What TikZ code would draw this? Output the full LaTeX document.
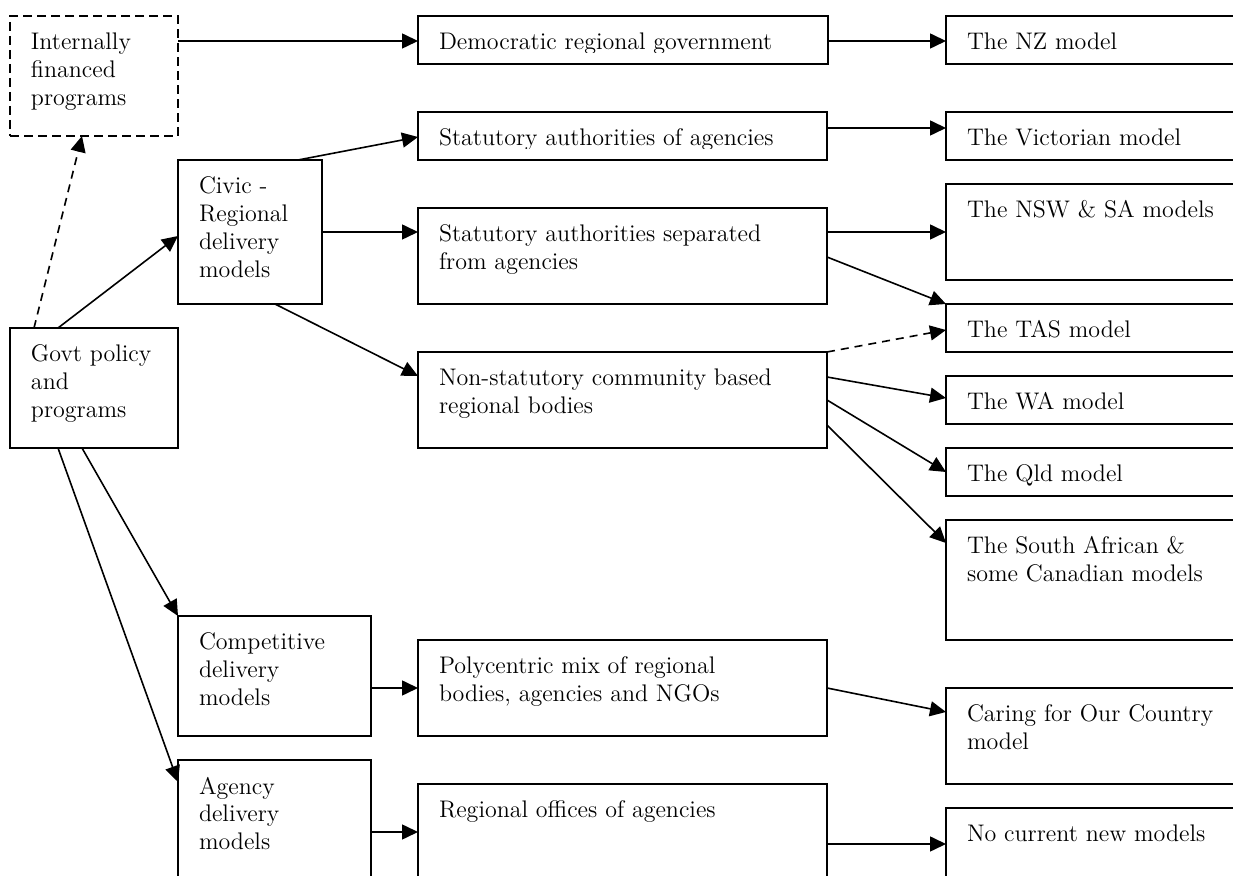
\documentclass[tikz,border=0pt]{standalone}
\usetikzlibrary{arrows.meta}
\tikzset{
  boxst/.style={draw, line width=0.9pt, inner sep=0pt, outer sep=0pt},
  dbox/.style={dash pattern=on 4.5pt off 2.5pt},
  txt/.style={inner sep=0pt, outer sep=0pt, align=left, anchor=north west, font=\fontsize{12}{14}\selectfont},
  arr/.style={line width=0.8pt, -{Triangle[length=8pt,width=7.5pt]}},
  darr/.style={arr, dash pattern=on 4pt off 3pt},
}
\newcommand\mybox[6][]{%
  \node[boxst,#1,anchor=north west,minimum width={(#5-#3)*0.5pt},minimum height={(#6-#4)*0.5pt}] (#2) at (#3,#4) {};}
\newcommand\mytext[2]{\node[txt] (#1t) at ([shift={(21,14.4)}]#1.north west) {\strut #2};}
\begin{document}
\begin{tikzpicture}[x=0.5pt,y=-0.5pt]
\useasboundingbox (0,0) rectangle (1233,876);
\clip (0,0) rectangle (1233,876);
% boxes
\mybox[dbox]{inter}{10}{16}{178}{136}
\mybox{demo}{418}{16}{828}{64}
\mybox{nz}{946}{16}{1260}{64}
\mybox{civic}{178}{160}{322}{304}
\mybox{stat1}{418}{112}{827}{160}
\mybox{vic}{946}{112}{1260}{160}
\mybox{stat2}{418}{208}{827}{304}
\mybox{nsw}{946}{184}{1260}{280}
\mybox{tas}{946}{304}{1260}{352}
\mybox{nonstat}{418}{352}{827}{448}
\mybox{wa}{946}{376}{1260}{424}
\mybox{qld}{946}{448}{1260}{496}
\mybox{sa}{946}{520}{1260}{640}
\mybox{govt}{10}{328}{178}{448}
\mybox{comp}{178}{616}{371}{736}
\mybox{poly}{418}{640}{827}{736}
\mybox{caring}{946}{688}{1260}{784}
\mybox{agency}{178}{760}{371}{900}
\mybox{regional}{418}{784}{827}{900}
\mybox{nocurrent}{946}{808}{1260}{900}
% texts
\mytext{inter}{Internally\\financed\\programs}
\begin{scope}
\clip (418,16) rectangle (828,53);
\mytext{demo}{Democratic regional government}
\end{scope}
\mytext{nz}{The NZ model}
\mytext{civic}{Civic -\\Regional\\delivery\\models}
\begin{scope}
\clip (418,112) rectangle (827,149);
\mytext{stat1}{Statutory authorities of agencies}
\end{scope}
\mytext{vic}{The Victorian model}
\mytext{stat2}{Statutory authorities separated\\from agencies}
\mytext{nsw}{The NSW \& SA models}
\mytext{tas}{The TAS model}
\mytext{nonstat}{Non-statutory community based\\regional bodies}
\mytext{wa}{The WA model}
\mytext{qld}{The Qld model}
\mytext{sa}{The South African \&\\some Canadian models}
\mytext{govt}{Govt policy\\and\\programs}
\mytext{comp}{Competitive\\delivery\\models}
\mytext{poly}{Polycentric mix of regional\\bodies, agencies and NGOs}
\mytext{caring}{Caring for Our Country\\model}
\mytext{agency}{Agency\\delivery\\models}
\mytext{regional}{Regional offices of agencies}
\mytext{nocurrent}{No current new models}
% connectors
\draw[arr] ([shift={(0,25)}]inter.north east) -- ([shift={(0,25)}]demo.north west);
\draw[arr] ([shift={(0,25)}]demo.north east) -- ([shift={(0,25)}]nz.north west);
\draw[arr] ([shift={(-24,0)}]civic.north east) -- ([shift={(0,25)}]stat1.north west);
\draw[arr] ([shift={(0,16)}]stat1.north east) -- ([shift={(0,16)}]vic.north west);
\draw[arr] ([shift={(0,72)}]civic.north east) -- ([shift={(0,24)}]stat2.north west);
\draw[arr] ([shift={(0,24)}]stat2.north east) -- ([shift={(0,48)}]nsw.north west);
\draw[arr] ([shift={(0,49)}]stat2.north east) -- (tas.north west);
\draw[arr] ([shift={(-47,0)}]civic.south east) -- ([shift={(0,24)}]nonstat.north west);
\draw[darr] (nonstat.north east) -- ([shift={(0,26)}]tas.north west);
\draw[arr] ([shift={(0,25)}]nonstat.north east) -- ([shift={(0,22)}]wa.north west);
\draw[arr] ([shift={(0,48)}]nonstat.north east) -- ([shift={(0,24)}]qld.north west);
\draw[arr] ([shift={(0,73)}]nonstat.north east) -- ([shift={(0,23)}]sa.north west);
\draw[arr] ([shift={(48,0)}]govt.north west) -- ([shift={(0,76)}]civic.north west);
\draw[darr] ([shift={(24,0)}]govt.north west) -- ([shift={(72,0)}]inter.south west);
\draw[arr] ([shift={(72,0)}]govt.south west) -- (comp.north west);
\draw[arr] ([shift={(48,0)}]govt.south west) -- ([shift={(0,22)}]agency.north west);
\draw[arr] ([shift={(0,72)}]comp.north east) -- ([shift={(0,48)}]poly.north west);
\draw[arr] ([shift={(0,48)}]poly.north east) -- ([shift={(0,24)}]caring.north west);
\draw[arr] ([shift={(0,72)}]agency.north east) -- ([shift={(0,48)}]regional.north west);
\draw[arr] ([shift={(0,60)}]regional.north east) -- ([shift={(0,36)}]nocurrent.north west);
\end{tikzpicture}
\end{document}
